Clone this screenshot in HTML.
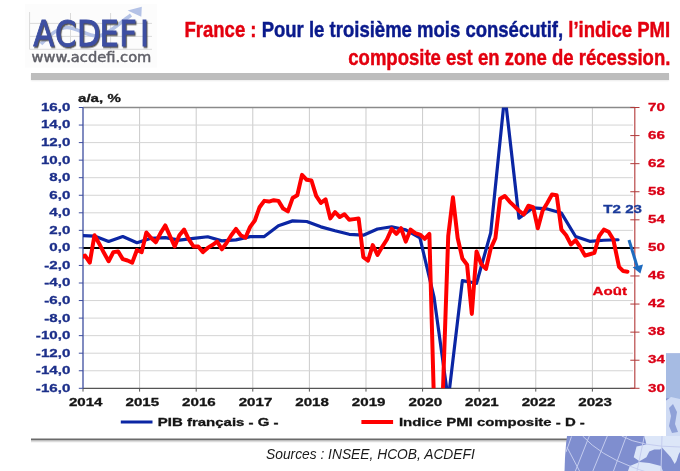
<!DOCTYPE html>
<html lang="fr">
<head>
<meta charset="utf-8">
<title>France : PMI composite</title>
<style>
html, body { margin: 0; padding: 0; background: #fff; }
body { width: 680px; height: 471px; position: relative; overflow: hidden; font-family: "Liberation Sans", sans-serif; }
.abs { position: absolute; }
#logo { left: 0; top: 0; width: 170px; height: 70px; }
.title { position: absolute; right: 9.6px; white-space: nowrap; font-family: "Liberation Sans", sans-serif; font-weight: bold; font-size: 22.5px; line-height: 1; transform-origin: right bottom; transform: scaleX(0.823); -webkit-text-stroke: 0.45px currentColor; }
.red { color: #e3000f; }
.blue { color: #0a1a8c; }
#bar { left: 31px; top: 72.9px; width: 638px; height: 6.8px; background: #bdbdbd; box-shadow: 0 1px 1.5px rgba(0,0,0,0.08); }
#chart { left: 0; top: 0; }
.g { stroke: #d4d4d4; stroke-width: 1; }
#chart text { font-family: "Liberation Sans", sans-serif; font-weight: bold; font-size: 11.2px; stroke-width: 0.3px; }
.ll { fill: #1c2f8a; stroke: #1c2f8a; }
.rl { fill: #da0016; stroke: #da0016; }
.xl { fill: #151515; stroke: #151515; }
.lg { fill: #151515; stroke: #151515; }
.ax { fill: #1a1a1a; stroke: #1a1a1a; }
#chart .lt { fill: #1a3a9a; stroke: #1a3a9a; font-size: 11.2px; }
#chart .la { fill: #e3000f; stroke: #e3000f; font-size: 11.2px; }
#src { left: 266px; top: 447px; font-family: "Liberation Sans", sans-serif; font-style: italic; font-size: 13.8px; color: #1a1a1a; white-space: nowrap; }
</style>
</head>
<body>

<!-- globe (behind chart box) -->
<svg class="abs" style="left:0;top:0" width="680" height="471" viewBox="0 0 680 471">
  <defs>
    <clipPath id="gc1"><circle cx="902" cy="476" r="337.5"/></clipPath>
    <clipPath id="gc2"><rect x="555" y="353.5" width="125" height="119"/></clipPath>
  </defs>
  <line x1="31" y1="439.5" x2="600" y2="439.5" stroke="#6a6a6a" stroke-width="1.8"/>
  <line x1="31" y1="441.5" x2="600" y2="441.5" stroke="#dcdcdc" stroke-width="1.5"/>
  <g clip-path="url(#gc2)"><g clip-path="url(#gc1)">
    <rect x="555" y="352" width="125" height="119" fill="#7f8ecf"/>
    <path d="M655,352 L680,352 L680,402 L670,398 L655,400 Z" fill="#a6bbe3"/>
    <path d="M664,402 L671,397 L680,399 L680,436 L664,436 Z" fill="#cfdbf4"/>
    <path d="M669,408 L673,404 L677,412 L675,424 L678,432 L672,433 L669,426 L671,416 Z" fill="#8fa1d8"/>
    <path d="M644.4,436 L646.4,444.5 L636.6,446.5 L633.7,457.3 L639.5,461.2 L646.4,457.3 L649.3,451.4 L654.2,449.4 L660.1,449.4 L662,447.5 L666,452 L670.8,457.3 L674.7,464 L676.5,461 L678.7,454.3 L680,452 L680,436 Z" fill="#dce6f8"/>
    <path d="M627.8,471.5 L629.8,466 L639.5,462.1 L649.3,463.1 L661,466 L663,471.5 Z" fill="#dce6f8"/>
    <g stroke="#c4ccee" stroke-width="1" fill="none">
      <line x1="571.5" y1="436.5" x2="566" y2="452"/>
      <line x1="589.3" y1="436" x2="575.4" y2="471"/>
      <line x1="607.3" y1="436" x2="592.9" y2="471"/>
      <line x1="626.4" y1="436" x2="613.5" y2="471"/>
      <line x1="644.4" y1="436" x2="637" y2="471"/>
      <line x1="662" y1="436" x2="661" y2="471"/>
      <line x1="567.1" y1="447.4" x2="579.5" y2="471"/>
      <path d="M582.6,436 Q600,455 632,467 T660,471.5"/>
      <path d="M621.7,436 Q640,446.5 680,447"/>
    </g>
  </g></g>
  <rect x="0" y="0" width="666" height="436" fill="#fff"/>
</svg>

<!-- logo -->
<svg id="logo" class="abs" width="170" height="70" viewBox="0 0 170 70">
  <rect x="25" y="4" width="132" height="63.5" fill="#fcfcfc"/>
  <g stroke="#dadada" stroke-width="1" fill="none">
    <line x1="29.6" y1="12" x2="29.6" y2="49.3"/>
    <line x1="29.6" y1="49.3" x2="152" y2="49.3"/>
    <line x1="29.6" y1="23.4" x2="152" y2="23.4"/>
    <line x1="29.6" y1="36.4" x2="152" y2="36.4"/>
    <line x1="70.5" y1="13" x2="70.5" y2="49.3"/>
    <line x1="110.6" y1="13" x2="110.6" y2="49.3"/>
  </g>
  <path d="M41,44 C50,35 58,27.5 67,27.5 C77,27.5 88,37 99,36 C107,35 116,26 131,15" fill="none" stroke="#b4c2e6" stroke-width="3.6"/>
  <path d="M127.6,10.4 L141.8,6.8 L141.3,16.8 Z" fill="#b4c2e6"/>
  <defs><filter id="sh" x="-10%" y="-10%" width="130%" height="130%"><feDropShadow dx="1.3" dy="1.5" stdDeviation="0.35" flood-color="#4a4a4a" flood-opacity="0.95"/></filter></defs>
  <text transform="scale(0.87,1)" y="45.7" font-family="DejaVu Sans" font-size="35" fill="#3d4fa2" stroke="#3d4fa2" stroke-width="0.9" filter="url(#sh)"><tspan x="38.16">A</tspan><tspan x="63.25">C</tspan><tspan x="88.49">D</tspan><tspan x="114.47">E</tspan><tspan x="137.11">F</tspan><tspan x="160.91">I</tspan></text>
  <text x="31.6" y="61.5" font-family="DejaVu Sans" font-size="13.2" fill="#606068" stroke="#606068" stroke-width="0.45" textLength="119.8" lengthAdjust="spacingAndGlyphs">www.acdefi.com</text>
</svg>

<!-- title -->
<div class="title" id="t1" style="top:19.0px"><span class="red">France : </span><span class="blue">Pour le troisième mois consécutif, </span><span class="red">l’indice PMI</span></div>
<div class="title red" id="t2" style="top:46.9px">composite est en zone de récession.</div>

<div id="bar" class="abs"></div>

<!-- chart -->
<svg id="chart" class="abs" width="680" height="471" viewBox="0 0 680 471">
  <defs>
    <clipPath id="pc"><rect x="83.0" y="107.5" width="551.80" height="280.80"/></clipPath>
  </defs>
<line x1="139.60" y1="107.50" x2="139.60" y2="388.30" class="g" style="stroke:#cbcbcb"/>
<line x1="196.20" y1="107.50" x2="196.20" y2="388.30" class="g" style="stroke:#cbcbcb"/>
<line x1="252.79" y1="107.50" x2="252.79" y2="388.30" class="g" style="stroke:#cbcbcb"/>
<line x1="309.39" y1="107.50" x2="309.39" y2="388.30" class="g" style="stroke:#cbcbcb"/>
<line x1="365.99" y1="107.50" x2="365.99" y2="388.30" class="g" style="stroke:#cbcbcb"/>
<line x1="422.59" y1="107.50" x2="422.59" y2="388.30" class="g" style="stroke:#cbcbcb"/>
<line x1="479.19" y1="107.50" x2="479.19" y2="388.30" class="g" style="stroke:#cbcbcb"/>
<line x1="535.78" y1="107.50" x2="535.78" y2="388.30" class="g" style="stroke:#cbcbcb"/>
<line x1="592.38" y1="107.50" x2="592.38" y2="388.30" class="g" style="stroke:#cbcbcb"/>
<line x1="83.00" y1="370.75" x2="633" y2="370.75" class="g"/>
<line x1="83.00" y1="353.20" x2="633" y2="353.20" class="g"/>
<line x1="83.00" y1="335.65" x2="633" y2="335.65" class="g"/>
<line x1="83.00" y1="318.10" x2="633" y2="318.10" class="g"/>
<line x1="83.00" y1="300.55" x2="633" y2="300.55" class="g"/>
<line x1="83.00" y1="283.00" x2="633" y2="283.00" class="g"/>
<line x1="83.00" y1="265.45" x2="633" y2="265.45" class="g"/>
<line x1="83.00" y1="230.35" x2="633" y2="230.35" class="g"/>
<line x1="83.00" y1="212.80" x2="633" y2="212.80" class="g"/>
<line x1="83.00" y1="195.25" x2="633" y2="195.25" class="g"/>
<line x1="83.00" y1="177.70" x2="633" y2="177.70" class="g"/>
<line x1="83.00" y1="160.15" x2="633" y2="160.15" class="g"/>
<line x1="83.00" y1="142.60" x2="633" y2="142.60" class="g"/>
<line x1="83.00" y1="125.05" x2="633" y2="125.05" class="g"/>
<line x1="83.00" y1="107.50" x2="634.80" y2="107.50" stroke="#8a8a8a" stroke-width="1.3"/>
<line x1="83.00" y1="247.90" x2="634.5" y2="247.90" stroke="#000" stroke-width="2"/>
<line x1="83.00" y1="388.30" x2="634.80" y2="388.30" stroke="#555" stroke-width="1.3"/>
<line x1="83.00" y1="388.30" x2="83.00" y2="391.6" stroke="#555" stroke-width="1"/>
<line x1="139.60" y1="388.30" x2="139.60" y2="391.6" stroke="#555" stroke-width="1"/>
<line x1="196.20" y1="388.30" x2="196.20" y2="391.6" stroke="#555" stroke-width="1"/>
<line x1="252.79" y1="388.30" x2="252.79" y2="391.6" stroke="#555" stroke-width="1"/>
<line x1="309.39" y1="388.30" x2="309.39" y2="391.6" stroke="#555" stroke-width="1"/>
<line x1="365.99" y1="388.30" x2="365.99" y2="391.6" stroke="#555" stroke-width="1"/>
<line x1="422.59" y1="388.30" x2="422.59" y2="391.6" stroke="#555" stroke-width="1"/>
<line x1="479.19" y1="388.30" x2="479.19" y2="391.6" stroke="#555" stroke-width="1"/>
<line x1="535.78" y1="388.30" x2="535.78" y2="391.6" stroke="#555" stroke-width="1"/>
<line x1="592.38" y1="388.30" x2="592.38" y2="391.6" stroke="#555" stroke-width="1"/>
<line x1="83.00" y1="107.50" x2="83.00" y2="388.30" stroke="#3d4d9f" stroke-width="1.3"/>
<line x1="78.8" y1="388.30" x2="83.00" y2="388.30" stroke="#3d4d9f" stroke-width="1"/>
<line x1="78.8" y1="370.75" x2="83.00" y2="370.75" stroke="#3d4d9f" stroke-width="1"/>
<line x1="78.8" y1="353.20" x2="83.00" y2="353.20" stroke="#3d4d9f" stroke-width="1"/>
<line x1="78.8" y1="335.65" x2="83.00" y2="335.65" stroke="#3d4d9f" stroke-width="1"/>
<line x1="78.8" y1="318.10" x2="83.00" y2="318.10" stroke="#3d4d9f" stroke-width="1"/>
<line x1="78.8" y1="300.55" x2="83.00" y2="300.55" stroke="#3d4d9f" stroke-width="1"/>
<line x1="78.8" y1="283.00" x2="83.00" y2="283.00" stroke="#3d4d9f" stroke-width="1"/>
<line x1="78.8" y1="265.45" x2="83.00" y2="265.45" stroke="#3d4d9f" stroke-width="1"/>
<line x1="78.8" y1="247.90" x2="83.00" y2="247.90" stroke="#3d4d9f" stroke-width="1"/>
<line x1="78.8" y1="230.35" x2="83.00" y2="230.35" stroke="#3d4d9f" stroke-width="1"/>
<line x1="78.8" y1="212.80" x2="83.00" y2="212.80" stroke="#3d4d9f" stroke-width="1"/>
<line x1="78.8" y1="195.25" x2="83.00" y2="195.25" stroke="#3d4d9f" stroke-width="1"/>
<line x1="78.8" y1="177.70" x2="83.00" y2="177.70" stroke="#3d4d9f" stroke-width="1"/>
<line x1="78.8" y1="160.15" x2="83.00" y2="160.15" stroke="#3d4d9f" stroke-width="1"/>
<line x1="78.8" y1="142.60" x2="83.00" y2="142.60" stroke="#3d4d9f" stroke-width="1"/>
<line x1="78.8" y1="125.05" x2="83.00" y2="125.05" stroke="#3d4d9f" stroke-width="1"/>
<line x1="78.8" y1="107.50" x2="83.00" y2="107.50" stroke="#3d4d9f" stroke-width="1"/>
<line x1="634.80" y1="107.50" x2="634.80" y2="388.30" stroke="#b84848" stroke-width="1.2"/>
<line x1="630.3" y1="107.50" x2="639.5" y2="107.50" stroke="#b03a3a" stroke-width="1"/>
<line x1="630.3" y1="135.58" x2="639.5" y2="135.58" stroke="#b03a3a" stroke-width="1"/>
<line x1="630.3" y1="163.66" x2="639.5" y2="163.66" stroke="#b03a3a" stroke-width="1"/>
<line x1="630.3" y1="191.74" x2="639.5" y2="191.74" stroke="#b03a3a" stroke-width="1"/>
<line x1="630.3" y1="219.82" x2="639.5" y2="219.82" stroke="#b03a3a" stroke-width="1"/>
<line x1="630.3" y1="247.90" x2="639.5" y2="247.90" stroke="#b03a3a" stroke-width="1"/>
<line x1="630.3" y1="275.98" x2="639.5" y2="275.98" stroke="#b03a3a" stroke-width="1"/>
<line x1="630.3" y1="304.06" x2="639.5" y2="304.06" stroke="#b03a3a" stroke-width="1"/>
<line x1="630.3" y1="332.14" x2="639.5" y2="332.14" stroke="#b03a3a" stroke-width="1"/>
<line x1="630.3" y1="360.22" x2="639.5" y2="360.22" stroke="#b03a3a" stroke-width="1"/>
<line x1="630.3" y1="388.30" x2="639.5" y2="388.30" stroke="#b03a3a" stroke-width="1"/>
<g clip-path="url(#pc)">
<polyline points="80.34,235.62 94.49,236.05 108.64,241.41 122.79,236.58 136.94,242.72 151.09,238.25 165.24,237.63 179.39,240.18 193.54,238.42 207.69,236.76 221.84,240.88 235.99,239.83 250.14,236.58 264.29,236.58 278.43,225.70 292.58,220.87 306.73,221.49 320.88,226.84 335.03,230.79 349.18,234.30 363.33,235.18 377.48,229.03 391.63,226.75 405.78,229.91 419.93,237.81 434.08,297.48 448.23,399.71 462.38,280.63 476.53,283.26 490.68,232.98 504.83,94.34 518.98,218.24 533.13,207.80 547.28,208.94 561.42,213.06 575.57,236.49 589.72,241.32 603.87,240.27 618.02,239.74" fill="none" stroke="#0b26a4" stroke-width="3.2" stroke-linejoin="round" stroke-linecap="round"/>
<polyline points="80.34,257.73 85.06,255.62 89.77,262.64 94.49,235.26 99.21,243.69 103.92,252.81 108.64,261.24 113.36,252.11 118.07,251.41 122.79,259.13 127.51,260.54 132.22,262.64 136.94,250.01 141.66,252.11 146.37,232.46 151.09,238.07 155.81,242.28 160.52,233.16 165.24,225.44 169.96,235.97 174.67,246.50 179.39,235.26 184.10,229.65 188.82,239.48 193.54,246.50 198.25,246.50 202.97,252.11 207.69,247.90 212.40,245.09 217.12,241.58 221.84,249.30 226.55,242.99 231.27,235.26 235.99,228.95 240.70,235.26 245.42,237.72 250.14,226.84 254.85,220.52 259.57,207.18 264.29,200.87 269.00,201.57 273.72,200.16 278.43,200.87 283.15,208.59 287.87,211.40 292.58,198.06 297.30,195.25 302.02,174.89 306.73,179.81 311.45,180.51 316.17,195.95 320.88,202.97 325.60,199.46 330.32,218.42 335.03,212.10 339.75,217.01 344.47,214.20 349.18,219.82 353.90,219.12 358.62,218.42 363.33,257.03 368.05,260.54 372.76,245.09 377.48,254.92 382.20,246.85 386.91,239.48 391.63,228.95 396.35,233.86 401.06,228.24 405.78,241.58 410.50,229.65 415.21,233.16 419.93,234.56 424.65,238.77 429.36,233.86 434.08,405.85 438.80,520.98 443.51,373.56 448.23,235.97 452.95,197.36 457.66,238.07 462.38,258.43 467.09,264.75 471.81,313.89 476.53,251.41 481.24,264.05 485.96,268.96 490.68,248.60 495.39,238.07 500.11,198.76 504.83,195.95 509.54,201.57 514.26,206.13 518.98,210.69 523.69,214.56 528.41,205.78 533.13,207.18 537.84,228.24 542.56,210.69 547.28,202.97 551.99,194.55 556.71,195.25 561.42,229.65 566.14,235.26 570.86,244.39 575.57,240.18 580.29,247.20 585.01,255.62 589.72,254.22 594.44,252.81 599.16,235.97 603.87,229.65 608.59,231.75 613.31,239.48 619.02,266.85 623.24,271.07 627.46,271.77" fill="none" stroke="#ff0000" stroke-width="4" stroke-linejoin="round" stroke-linecap="round"/>
</g>
<text transform="matrix(1.350,0,0,1,70.30,391.70)" text-anchor="end" class="ll">-16,0</text>
<text transform="matrix(1.350,0,0,1,70.30,374.15)" text-anchor="end" class="ll">-14,0</text>
<text transform="matrix(1.350,0,0,1,70.30,356.60)" text-anchor="end" class="ll">-12,0</text>
<text transform="matrix(1.350,0,0,1,70.30,339.05)" text-anchor="end" class="ll">-10,0</text>
<text transform="matrix(1.350,0,0,1,70.30,321.50)" text-anchor="end" class="ll">-8,0</text>
<text transform="matrix(1.350,0,0,1,70.30,303.95)" text-anchor="end" class="ll">-6,0</text>
<text transform="matrix(1.350,0,0,1,70.30,286.40)" text-anchor="end" class="ll">-4,0</text>
<text transform="matrix(1.350,0,0,1,70.30,268.85)" text-anchor="end" class="ll">-2,0</text>
<text transform="matrix(1.350,0,0,1,70.30,251.30)" text-anchor="end" class="ll">0,0</text>
<text transform="matrix(1.350,0,0,1,70.30,233.75)" text-anchor="end" class="ll">2,0</text>
<text transform="matrix(1.350,0,0,1,70.30,216.20)" text-anchor="end" class="ll">4,0</text>
<text transform="matrix(1.350,0,0,1,70.30,198.65)" text-anchor="end" class="ll">6,0</text>
<text transform="matrix(1.350,0,0,1,70.30,181.10)" text-anchor="end" class="ll">8,0</text>
<text transform="matrix(1.350,0,0,1,70.30,163.55)" text-anchor="end" class="ll">10,0</text>
<text transform="matrix(1.350,0,0,1,70.30,146.00)" text-anchor="end" class="ll">12,0</text>
<text transform="matrix(1.350,0,0,1,70.30,128.45)" text-anchor="end" class="ll">14,0</text>
<text transform="matrix(1.350,0,0,1,70.30,110.90)" text-anchor="end" class="ll">16,0</text>
<text transform="matrix(1.350,0,0,1,648.00,110.70)" text-anchor="start" class="rl">70</text>
<text transform="matrix(1.350,0,0,1,648.00,138.78)" text-anchor="start" class="rl">66</text>
<text transform="matrix(1.350,0,0,1,648.00,166.86)" text-anchor="start" class="rl">62</text>
<text transform="matrix(1.350,0,0,1,648.00,194.94)" text-anchor="start" class="rl">58</text>
<text transform="matrix(1.350,0,0,1,648.00,223.02)" text-anchor="start" class="rl">54</text>
<text transform="matrix(1.350,0,0,1,648.00,251.10)" text-anchor="start" class="rl">50</text>
<text transform="matrix(1.350,0,0,1,648.00,279.18)" text-anchor="start" class="rl">46</text>
<text transform="matrix(1.350,0,0,1,648.00,307.26)" text-anchor="start" class="rl">42</text>
<text transform="matrix(1.350,0,0,1,648.00,335.34)" text-anchor="start" class="rl">38</text>
<text transform="matrix(1.350,0,0,1,648.00,363.42)" text-anchor="start" class="rl">34</text>
<text transform="matrix(1.350,0,0,1,648.00,391.50)" text-anchor="start" class="rl">30</text>
<text transform="matrix(1.350,0,0,1,85.70,405.60)" text-anchor="middle" class="xl">2014</text>
<text transform="matrix(1.350,0,0,1,142.30,405.60)" text-anchor="middle" class="xl">2015</text>
<text transform="matrix(1.350,0,0,1,198.90,405.60)" text-anchor="middle" class="xl">2016</text>
<text transform="matrix(1.350,0,0,1,255.49,405.60)" text-anchor="middle" class="xl">2017</text>
<text transform="matrix(1.350,0,0,1,312.09,405.60)" text-anchor="middle" class="xl">2018</text>
<text transform="matrix(1.350,0,0,1,368.69,405.60)" text-anchor="middle" class="xl">2019</text>
<text transform="matrix(1.350,0,0,1,425.29,405.60)" text-anchor="middle" class="xl">2020</text>
<text transform="matrix(1.350,0,0,1,481.89,405.60)" text-anchor="middle" class="xl">2021</text>
<text transform="matrix(1.350,0,0,1,538.48,405.60)" text-anchor="middle" class="xl">2022</text>
<text transform="matrix(1.350,0,0,1,595.08,405.60)" text-anchor="middle" class="xl">2023</text>
<text transform="matrix(1.350,0,0,1,78.00,102.40)" text-anchor="start" class="ax">a/a, %</text>
<text transform="matrix(1.350,0,0,1,157.80,425.90)" text-anchor="start" class="lg" textLength="89.4" lengthAdjust="spacingAndGlyphs">PIB français - G -</text>
<text transform="matrix(1.350,0,0,1,398.90,425.90)" text-anchor="start" class="lg" textLength="137.7" lengthAdjust="spacingAndGlyphs">Indice PMI composite - D -</text>
<text transform="matrix(1.350,0,0,1,603.30,213.40)" text-anchor="start" class="lt">T2 23</text>
<text transform="matrix(1.350,0,0,1,592.60,295.20)" text-anchor="start" class="la">Août</text>
  <!-- arrow -->
  <line x1="629" y1="240" x2="637.3" y2="267" stroke="#1e6bbf" stroke-width="3"/>
  <path d="M632.6,267.2 L643,264.4 L640.4,273.6 Z" fill="#1e6bbf"/>
  <!-- legend -->
  <line x1="120.8" y1="422" x2="152.5" y2="422" stroke="#0b26a4" stroke-width="3.2"/>
  <line x1="361.4" y1="422" x2="393.1" y2="422" stroke="#ff0000" stroke-width="4"/>
</svg>

<div id="src" class="abs">Sources : INSEE, HCOB, ACDEFI</div>

</body>
</html>
